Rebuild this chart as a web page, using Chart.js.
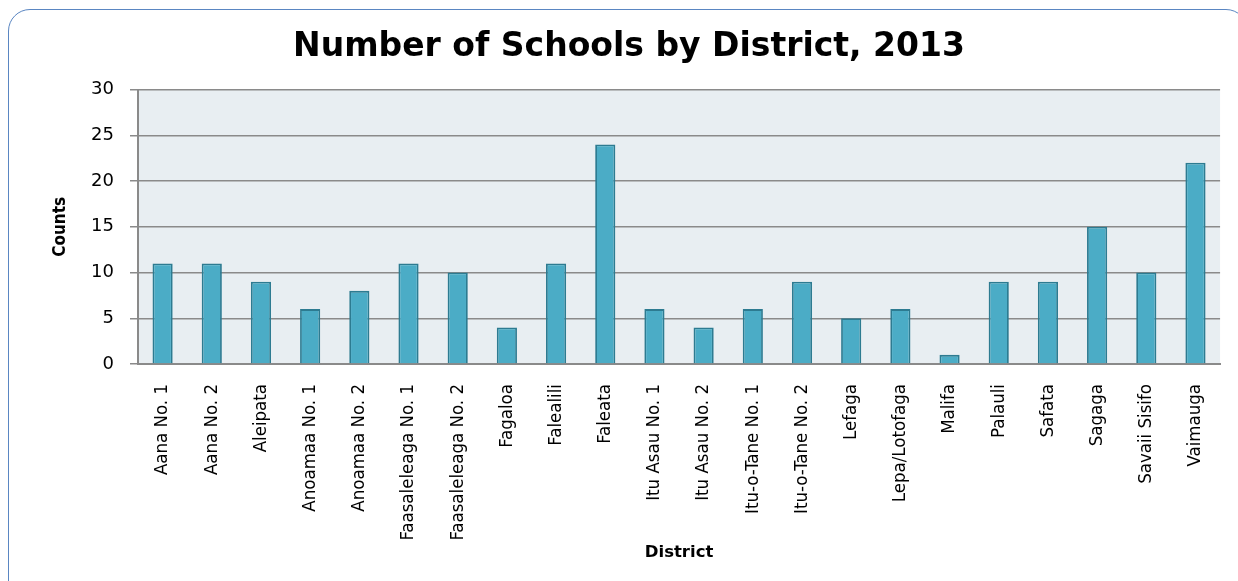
<!DOCTYPE html>
<html>
<head>
<meta charset="utf-8">
<title>Number of Schools by District, 2013</title>
<script src="https://cdn.jsdelivr.net/npm/chart.js@4/dist/chart.umd.min.js"></script>
<style>
  html, body { margin: 0; padding: 0; background: #fff; overflow: hidden; }
  #wrap { position: relative; width: 1238px; height: 581px; }
  #frame {
    position: absolute; left: 8px; top: 9px; width: 1240px; height: 600px;
    border: 1.5px solid #5a86c2; border-radius: 22px; box-sizing: border-box;
  }
  canvas { position: absolute; left: 0; top: 0; }
</style>
</head>
<body>
<div id="wrap">
  <div id="frame"></div>
  <canvas id="schoolChart" width="1238" height="581"></canvas>
</div>
<script>
/* ---------- DATA ---------- */
const DISTRICTS = [
  "Aana No. 1", "Aana No. 2", "Aleipata", "Anoamaa No. 1", "Anoamaa No. 2",
  "Faasaleleaga No. 1", "Faasaleleaga No. 2", "Fagaloa", "Falealili", "Faleata",
  "Itu Asau No. 1", "Itu Asau No. 2", "Itu-o-Tane No. 1", "Itu-o-Tane No. 2",
  "Lefaga", "Lepa/Lotofaga", "Malifa", "Palauli", "Safata", "Sagaga",
  "Savaii Sisifo", "Vaimauga"
];
const SCHOOL_COUNTS = [
  11, 11, 9, 6, 8,
  11, 10, 4, 11, 24,
  6, 4, 6, 9,
  5, 6, 1, 9, 9, 15,
  10, 22
];
const Y_TICKS = [0, 5, 10, 15, 20, 25, 30];

/* ---------- PLOT BACKGROUND ---------- */
const plotBg = {
  id: "plotBg",
  beforeDraw(chart) {
    const { ctx, chartArea: a } = chart;
    ctx.save();
    ctx.fillStyle = "#e8eef2";
    ctx.fillRect(a.left, a.top, a.right - a.left, a.bottom - a.top);
    ctx.restore();
  }
};

const ctx = document.getElementById("schoolChart").getContext("2d");
const NARROW = "'Liberation Sans Narrow', 'DejaVu Sans Condensed', sans-serif";

new Chart(ctx, {
  type: "bar",
  data: {
    labels: DISTRICTS,
    datasets: [{
      label: "Counts",
      data: SCHOOL_COUNTS,
      backgroundColor: "#4bacc6",
      borderColor: "#2d7b91",
      borderWidth: 1.8,
      categoryPercentage: 1,
      barPercentage: 0.41
    }]
  },
  options: {
    responsive: false,
    animation: false,
    layout: { padding: { left: 34, right: 14, top: 0, bottom: 0 } },
    plugins: {
      legend: { display: false },
      tooltip: { enabled: false },
      title: {
        display: true,
        text: "Number of Schools by District, 2013",
        color: "#000",
        font: { family: "DejaVu Sans", size: 33, weight: "bold" },
        padding: { top: 28, bottom: 22 }
      }
    },
    scales: {
      x: {
        grid: { display: false, drawTicks: false },
        border: { display: true, color: "#8a8a8a", width: 2 },
        ticks: {
          color: "#000",
          minRotation: 90,
          maxRotation: 90,
          autoSkip: false,
          padding: 20,
          font: { family: NARROW, size: 18.5 }
        },
        title: {
          display: true,
          text: "District",
          color: "#000",
          font: { family: "DejaVu Sans", size: 16.5, weight: "bold" },
          padding: { top: 4, bottom: 18 }
        },
        afterFit(scale) { scale.height = 217; }
      },
      y: {
        min: 0,
        max: 30,
        afterBuildTicks(scale) { scale.ticks = Y_TICKS.map(v => ({ value: v })); },
        grid: { color: "#8a8a8a", lineWidth: 1.5, tickLength: 8, drawTicks: true },
        border: { display: true, color: "#8a8a8a", width: 2 },
        ticks: {
          color: "#000",
          padding: 16,
          font: { family: "DejaVu Sans", size: 18 }
        },
        title: {
          display: true,
          text: "Counts",
          color: "#000",
          font: { family: NARROW, size: 17, weight: "bold" },
          padding: { top: 16, bottom: 0 }
        },
        afterFit(scale) { scale.width = 104; }
      }
    }
  },
  plugins: [plotBg]
});
</script>
</body>
</html>
